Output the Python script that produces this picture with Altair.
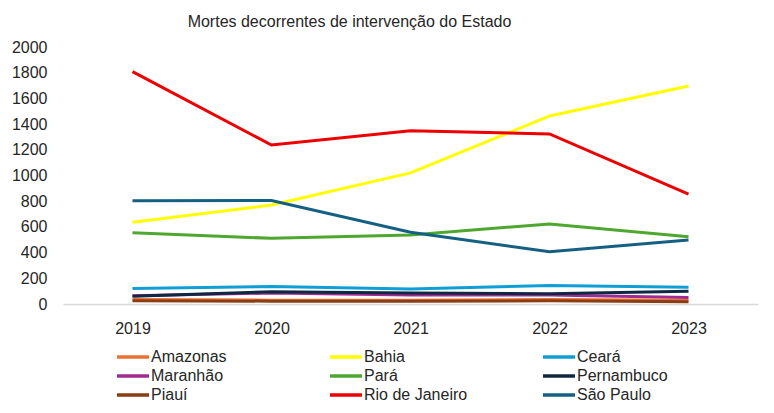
import altair as alt
import pandas as pd

years = ["2019", "2020", "2021", "2022", "2023"]
states = ["Amazonas", "Bahia", "Ceará", "Maranhão", "Pará", "Pernambuco", "Piauí", "Rio de Janeiro", "São Paulo"]
colors = ["#E97132", "#FFFF00", "#0F9ED5", "#A02B93", "#4EA72E", "#0E2841", "#8B3D14", "#EE0000", "#156082"]

amazonas = [35, 30, 30, 35, 30]
bahia = [636, 770, 1020, 1463, 1696]
ceara = [120, 137, 117, 143, 130]
maranhao = [65, 85, 70, 70, 50]
para = [555, 511, 537, 623, 524]
pernambuco = [60, 95, 85, 80, 100]
piaui = [25, 22, 22, 25, 18]
rio = [1808, 1237, 1349, 1323, 856]
sao_paulo = [804, 805, 558, 407, 498]

series = [amazonas, bahia, ceara, maranhao, para, pernambuco, piaui, rio, sao_paulo]
rows = []
for s, vals in zip(states, series):
    for y, v in zip(years, vals):
        rows.append({"Estado": s, "Ano": y, "Mortes": v})
df = pd.DataFrame(rows)

chart = alt.Chart(df).mark_line(strokeWidth=3).encode(
    x=alt.X("Ano:O", sort=years, title=None,
            scale=alt.Scale(type="point", padding=0.5),
            axis=alt.Axis(labelAngle=0, ticks=False, domainColor="#d9d9d9", domainWidth=1.5,
                          labelFontSize=16, labelFont="Liberation Sans", labelColor="#262626",
                          labelPadding=16, grid=False)),
    y=alt.Y("Mortes:Q", title=None,
            scale=alt.Scale(domain=[0, 2000], nice=False),
            axis=alt.Axis(values=list(range(0, 2001, 200)), format="d", ticks=False, domain=False,
                          grid=False, labelFontSize=16, labelFont="Liberation Sans",
                          labelColor="#262626", labelPadding=16)),
    color=alt.Color("Estado:N", sort=states,
                    scale=alt.Scale(domain=states, range=colors),
                    legend=alt.Legend(title=None, orient="none", legendX=60, legendY=300,
                                      direction="horizontal", columns=3, gridAlign="all",
                                      columnPadding=68, rowPadding=1,
                                      symbolType="M-2,0L2,0", symbolSize=256, symbolStrokeWidth=3.5,
                                      labelFontSize=16, labelFont="Liberation Sans", labelColor="#262626",
                                      labelOffset=8, padding=0)),
    order=alt.Order("Ano:O"),
).properties(
    width=695,
    height=257,
    title=alt.TitleParams("Mortes decorrentes de intervenção do Estado", font="Liberation Sans",
                          fontSize=16, fontWeight="normal", color="#262626", anchor="middle",
                          dx=-61, offset=9),
    autosize=alt.AutoSizeParams(type="none"),
    padding={"left": 55, "top": 39, "right": 8, "bottom": 101},
).configure_view(stroke=None)

chart.save("out.html", embed_options={"renderer": "svg", "actions": False})
